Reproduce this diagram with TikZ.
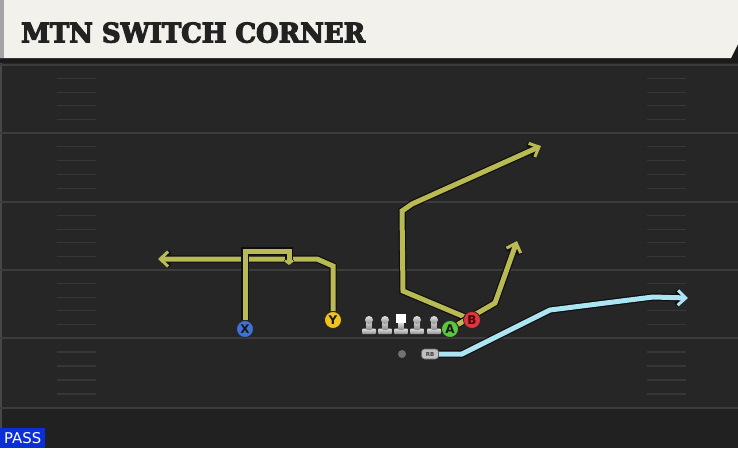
\documentclass[tikz,border=0pt]{standalone}
\usepackage{fontspec}
\usepackage{graphicx}
\usetikzlibrary{arrows.meta}
\newfontfamily\titlefont{DejaVu Serif Condensed Bold}[FakeBold=4]
\newfontfamily\plfont{DejaVu Sans}
\definecolor{banner}{HTML}{F3F1EC}
\definecolor{bannerstrip}{HTML}{A5A5A5}
\definecolor{titletext}{HTML}{222222}
\definecolor{band}{HTML}{1B1B1B}
\definecolor{field}{HTML}{262626}
\definecolor{fieldlow}{HTML}{212121}
\definecolor{yardline}{HTML}{3C3C3C}
\definecolor{hashc}{HTML}{373737}
\definecolor{edgec}{HTML}{474747}
\definecolor{olivec}{HTML}{BABA55}
\definecolor{bluec}{HTML}{ABE4F2}
\definecolor{routeedge}{HTML}{0E0E0E}
\definecolor{xfill}{HTML}{3F72D6}
\definecolor{yfill}{HTML}{F2C320}
\definecolor{afill}{HTML}{58C93A}
\definecolor{bfill}{HTML}{E23440}
\definecolor{lmtop}{HTML}{E2E2E2}
\definecolor{lmbot}{HTML}{8E8E8E}
\definecolor{passblue}{HTML}{0B2FD6}
\pgfdeclarelayer{bg}
\pgfdeclarelayer{rt}
\pgfsetlayers{bg,rt,main}
\tikzset{
  rout/.style={line width=7.4pt, draw=routeedge},
  rin/.style={line width=5pt},
  tipbigout/.style={-{Straight Barb[length=8pt,width=15pt,line width=5pt]}},
  tipbigin/.style={-{Straight Barb[length=8pt,width=15pt,line width=3pt]}},
  tipsmallout/.style={-{Straight Barb[length=3pt,width=8pt,line width=4pt]}},
  tipsmallin/.style={-{Straight Barb[length=3pt,width=8pt,line width=2.4pt]}},
  player/.style={circle, draw=black!85, line width=0.8pt, minimum size=17pt, inner sep=0pt,
    text=black!90, font=\plfont\bfseries\fontsize{12}{12}\selectfont},
  yard/.style={draw=yardline, line width=2pt},
  hashmark/.style={draw=hashc, line width=1.3pt},
  lmpart/.style={top color=lmtop, bottom color=lmbot},
  lman/.pic={
    \path[lmpart, rounded corners=1pt] (-7,8.5) rectangle (7,14);
    \path[lmpart] (-2.5,0) rectangle (2.5,9.5);
    \path[lmpart] (0,0) circle (4pt);
  },
  cman/.pic={
    \path[lmpart, rounded corners=1pt] (-7,8.5) rectangle (7,14);
    \path[lmpart] (-2.5,2) rectangle (2.5,9.5);
    \fill[white] (-4.7,-6) rectangle (4.7,3);
  },
}
\newcommand\playroute[3]{\draw[rout,#2out] #3; \draw[rin,draw=#1,#2in] #3;}
\begin{document}
\begin{tikzpicture}[x=1pt,y=-1pt]
\useasboundingbox (0,0) rectangle (738,448);
% players (main layer)
\node[player, fill=xfill] (X) at (245,329) {X};
\node[player, fill=yfill] (Y) at (333,320) {Y};
\node[player, fill=afill] (A) at (450,329) {A};
\node[player, fill=bfill, text=black!75!red] (B) at (472,320) {B};
\node[rounded corners=3pt, fill=lmtop!85!black, draw=black!60, line width=0.6pt,
  minimum width=17pt, minimum height=10pt, inner sep=0pt, text=black!75,
  font=\plfont\bfseries\fontsize{5.5}{5.5}\selectfont] (RB) at (430,354) {RB};
\node[circle, fill=black!55, minimum size=8pt, inner sep=0pt] (dot) at (402,354) {};
\pic at (369,320) {lman};
\pic at (385,320) {lman};
\pic at (401,320) {cman};
\pic at (417,320) {lman};
\pic at (434,320) {lman};
% background
\begin{pgfonlayer}{bg}
  \fill[band] (0,0) rectangle (738,63);
  \fill[field] (0,63) rectangle (738,448);
  \fill[fieldlow] (0,409) rectangle (738,448);
  \fill[banner] (0,0) -- (738,0) -- (738,44) -- (731,58) -- (0,58) -- cycle;
  \fill[bannerstrip] (0,0) rectangle (4,58);
  \node[anchor=south west, inner sep=0pt, text=titletext] (title) at (21,43)
    {\resizebox{344pt}{20pt}{\titlefont MTN SWITCH CORNER}};
  \draw[edgec, line width=1.5pt] (1,63) -- (1,448);
  \foreach \yy in {65,133,202,270,338,408} {
    \draw[yard] (0,\yy) -- (738,\yy);
  }
  \foreach \s/\e in {65/133,133/202,202/270,270/338,338/408} {
    \foreach \k in {1,...,4} {
      \draw[hashmark] (57,{\s+(\e-\s)*\k/5}) -- (96,{\s+(\e-\s)*\k/5});
      \draw[hashmark] (647,{\s+(\e-\s)*\k/5}) -- (686,{\s+(\e-\s)*\k/5});
    }
  }
  \node[fill=passblue, anchor=south west, minimum width=45pt, minimum height=20pt,
    inner sep=0pt, text=white] (pass) at (0,448)
    {\resizebox{37pt}{11pt}{\plfont PASS}};
\end{pgfonlayer}
% routes
\begin{pgfonlayer}{rt}
  \playroute{olivec}{tipbig}{(Y) -- (333,266) -- (317,259) -- (158,259)}
  \playroute{olivec}{tipsmall}{(X) -- (245,251) -- (289,251) -- (289,265)}
  \playroute{olivec}{tipbig}{(B) -- (403,291) -- (402,211) -- (412,204) -- (541,146)}
  \playroute{olivec}{tipbig}{(A) -- (495,303) -- (517,241)}
  \playroute{bluec}{tipbig}{(RB) -- (462,354) -- (550,310) -- (653,297) -- (688,298)}
\end{pgfonlayer}
\end{tikzpicture}
\end{document}
